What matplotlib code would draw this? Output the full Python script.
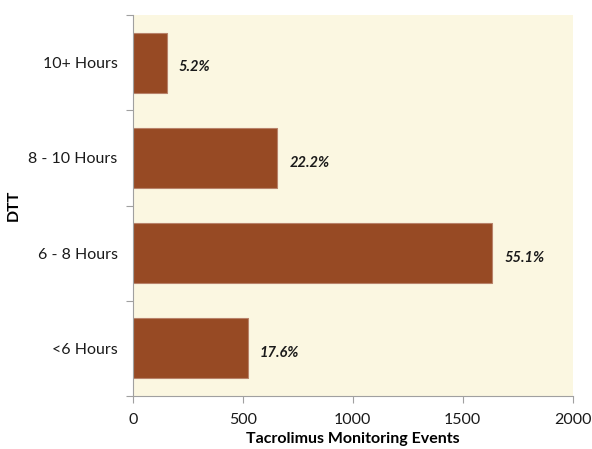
import matplotlib.pyplot as plt
import numpy as np

# Tacrolimus monitoring events by draw-to-test time
categories = ['<6 Hours', '6 - 8 Hours', '8 - 10 Hours', '10+ Hours']
events = [521, 1633, 657, 154]

plt.rcParams['font.family'] = ['Lato', 'DejaVu Sans']

fig = plt.figure(figsize=(5.92, 4.49), dpi=100)
ax = fig.add_axes([0.2247, 0.118, 0.7426, 0.8486])
ax.set_facecolor('#FBF7E1')

y = np.arange(len(categories))
ax.barh(y, events, height=0.63, color='#974A24', edgecolor='#B8826A', linewidth=0.8)

total = sum(events)
for yi, v in zip(y, events):
    ax.text(v + 55, yi - 0.05, f'{v / total * 100:.1f}%', va='center', ha='left',
            fontsize=10.5, fontweight='bold', fontstyle='italic', color='#1a1a1a')

ax.set_xlim(0, 2000)
ax.set_ylim(-0.5, len(categories) - 0.5)
ax.set_xticks([0, 500, 1000, 1500, 2000])

# category boundaries carry the tick marks, labels sit at bar centres
ax.set_yticks(np.arange(-0.5, len(categories)), labels=[])
ax.set_yticks(y, labels=categories, minor=True)
ax.tick_params(axis='y', which='major', length=5, color='#A0A0A0', width=0.8)
ax.tick_params(axis='y', which='minor', length=0, pad=11, labelsize=11.5, labelcolor='#1a1a1a')
ax.tick_params(axis='x', length=5, color='#A0A0A0', width=0.8, labelsize=11.5,
               labelcolor='#1a1a1a', pad=7)

for s in ['top', 'right']:
    ax.spines[s].set_visible(False)
for s in ['left', 'bottom']:
    ax.spines[s].set_color('#A0A0A0')
    ax.spines[s].set_linewidth(0.8)

ax.set_ylabel('DTT', fontsize=11.5, fontweight='bold')
ax.yaxis.set_label_coords(-0.255, 0.5)
ax.set_xlabel('Tacrolimus Monitoring Events', fontsize=11.5, fontweight='bold', labelpad=4)

plt.savefig('out.png', dpi=100)
